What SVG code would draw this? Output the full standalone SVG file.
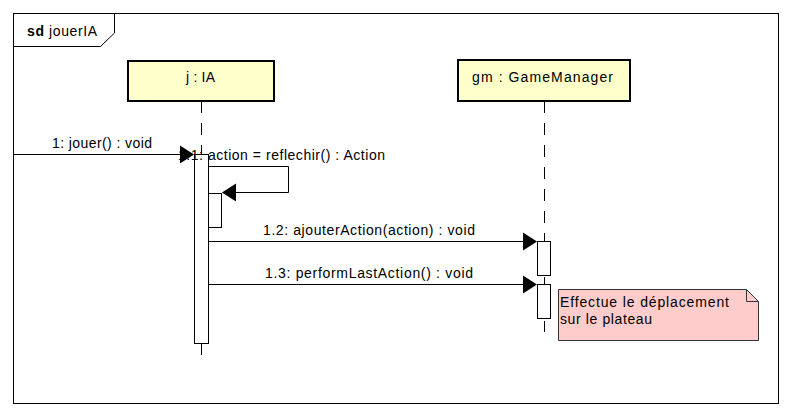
<svg xmlns="http://www.w3.org/2000/svg" width="792" height="417" viewBox="0 0 792 417">
<defs>
<style>
text{font-family:"Liberation Sans",Arial,sans-serif;font-size:14px;fill:#000}
.head{fill:#ffffcc;stroke:#000;stroke-width:2}
.life{stroke:#000;stroke-width:1;stroke-dasharray:12,10;fill:none}
.act{fill:#fff;stroke:#000;stroke-width:1}
.msg{stroke:#000;stroke-width:1;fill:none}
.tip{fill:#000;stroke:none}
</style>
</defs>
<rect x="0" y="0" width="792" height="417" fill="#fff"/>
<g id="frame">
<rect x="13.5" y="13.5" width="765" height="390" fill="none" stroke="#000"/>
<path d="M13.5 46.5 H100.5 L114.5 33 V13.5" fill="none" stroke="#000"/>
<text x="27" y="36" textLength="70"><tspan font-weight="bold">sd</tspan> jouerIA</text>
</g>
<g id="ia">
<line class="life" x1="201.5" y1="101" x2="201.5" y2="357"/>
<rect class="head" x="128" y="61" width="146" height="40"/>
<text x="186" y="82" textLength="29">j : IA</text>
<rect class="act" x="194.5" y="154.5" width="14" height="189"/>
<rect class="act" x="208.5" y="193.5" width="13" height="34"/>
</g>
<g id="gm">
<line class="life" x1="544.5" y1="101" x2="544.5" y2="332"/>
<rect class="head" x="458" y="60" width="172" height="41"/>
<text x="472" y="82" textLength="141">gm : GameManager</text>
<rect class="act" x="537.5" y="241.5" width="13" height="34"/>
<rect class="act" x="537.5" y="284.5" width="13" height="34"/>
</g>
<g id="note">
<path d="M558.5 289.5 H746.5 L758.5 301.5 V340.5 H558.5 Z" fill="#ffcccc" stroke="#333"/>
<path d="M746.5 289.5 V301.5 H758.5" fill="none" stroke="#333"/>
<text x="560" y="307" textLength="169">Effectue le déplacement</text>
<text x="560" y="324" textLength="92">sur le plateau</text>
</g>
<g id="connectors">
<line class="msg" x1="13" y1="154.5" x2="180" y2="154.5"/>
<polygon class="tip" points="180,145.5 194,154.5 180,163.5"/>
<text x="52" y="148" textLength="100">1: jouer() : void</text>
<text x="178" y="160" textLength="207">1.1: action = reflechir() : Action</text>
<path class="msg" d="M208.5 166.5 H288.5 V192.5 H236"/>
<polygon class="tip" points="236,183.5 222,192.5 236,201.5"/>
<line class="msg" x1="208.5" y1="241.5" x2="523" y2="241.5"/>
<polygon class="tip" points="523,232.5 537,241.5 523,250.5"/>
<text x="263" y="235" textLength="212">1.2: ajouterAction(action) : void</text>
<line class="msg" x1="208.5" y1="284.5" x2="523" y2="284.5"/>
<polygon class="tip" points="523,275.5 537,284.5 523,293.5"/>
<text x="265" y="278" textLength="208">1.3: performLastAction() : void</text>
</g>
</svg>
